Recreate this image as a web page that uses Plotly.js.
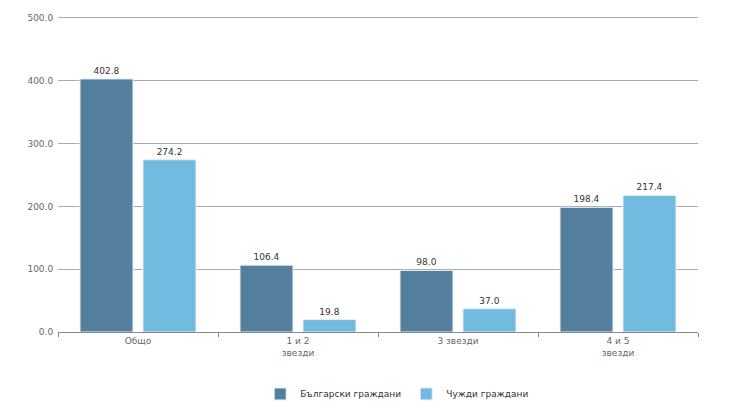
<!DOCTYPE html>
<html>
<head>
<meta charset="utf-8">
<script src="https://cdn.plot.ly/plotly-3.0.1.min.js"></script>
<style>html,body{margin:0;padding:0;background:#fff;}#chart{width:739px;height:401px;}</style>
</head>
<body>
<div id="chart"></div>
<script>
const categories = ["Общо", "1 и 2<br>звезди", "3 звезди", "4 и 5<br>звезди"];
const seriesNames = ["Български граждани", "Чужди граждани"];
const bulgarian = [402.8, 106.4, 98.0, 198.4];
const foreign = [274.2, 19.8, 37.0, 217.4];
const yTicks = [0, 100, 200, 300, 400, 500];

const colors = ["#557f9f", "#72bbe0"];
const font = "DejaVu Sans, sans-serif";

function mk(name, vals, color) {
  return {
    type: "bar", name: name, x: categories, y: vals,
    marker: {color: color, line: {color: "#e8eef3", width: 1}},
    text: vals.map(v => v.toFixed(1)), textposition: "outside",
    textfont: {family: font, size: 9, color: "#333"},
    cliponaxis: false, hoverinfo: "none"
  };
}

const data = [mk(seriesNames[0], bulgarian, colors[0]), mk(seriesNames[1], foreign, colors[1])];

const layout = {
  width: 739, height: 401,
  margin: {l: 58, r: 41, t: 16, b: 69, autoexpand: false},
  paper_bgcolor: "#fff", plot_bgcolor: "#fff",
  font: {family: font, size: 9, color: "#666"},
  barmode: "group", bargap: 0.2125, bargroupgap: 0.159,
  showlegend: true,
  legend: {orientation: "h", x: 0.53, xanchor: "center", y: -0.196, yanchor: "middle",
           font: {family: font, size: 9, color: "#333"}, traceorder: "normal"},
  xaxis: {type: "category", showgrid: false, showline: true, linecolor: "#888", linewidth: 1,
          ticks: "outside", tickson: "boundaries", ticklen: 4, tickcolor: "#888",
          tickfont: {family: font, size: 9, color: "#666"}, fixedrange: true},
  yaxis: {range: [0, 503], tickvals: yTicks, ticktext: yTicks.map(v => v.toFixed(1)),
          showgrid: true, gridcolor: "#aaa", gridwidth: 1, zeroline: false, showline: false,
          ticks: "outside", ticklen: 2, tickcolor: "rgba(0,0,0,0)",
          tickfont: {family: font, size: 9, color: "#666"}, fixedrange: true}
};

Plotly.newPlot("chart", data, layout, {displayModeBar: false, staticPlot: true});
</script>
</body>
</html>
